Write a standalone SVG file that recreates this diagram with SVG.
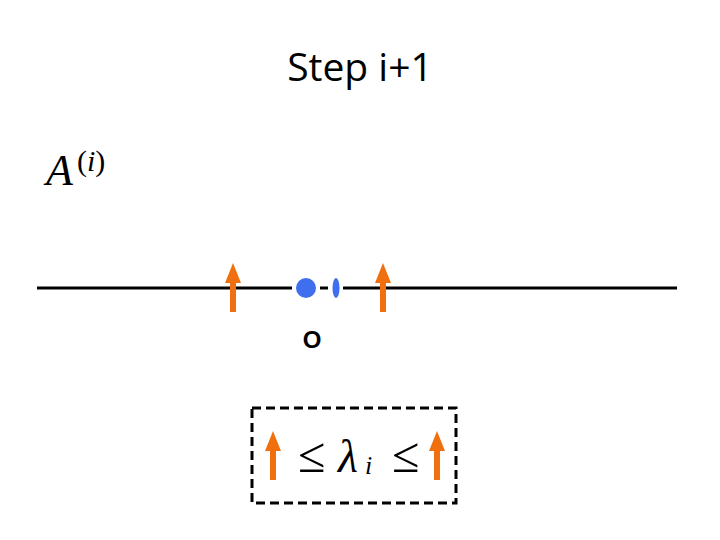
<svg xmlns="http://www.w3.org/2000/svg" width="720" height="540" viewBox="0 0 720 540">
<style>
.arrow{fill:#f07010}
.dot{fill:#3f6fef}
.math{font-family:"Liberation Serif","DejaVu Serif",serif}
</style>
<defs>
<path id="arr" class="arrow" d="M-3,0 L-3,-29 L-8,-29 L0,-49 L8,-29 L3,-29 L3,0 Z"/>
</defs>
<rect width="720" height="540" fill="#fff"/>
<g id="title"><text x="360" y="81" text-anchor="middle" font-family="'Open Sans','Liberation Sans',sans-serif" font-size="39" fill="#000">Step i+1</text></g>
<g id="label-A"><text class="math" x="46" y="185" font-size="44" font-style="italic">A</text><text class="math" x="77" y="171" font-size="30">(<tspan font-style="italic">i</tspan>)</text></g>
<g id="connectors">
<line x1="37" y1="288" x2="292" y2="288" stroke="#000" stroke-width="3"/>
<line x1="320" y1="288" x2="328" y2="288" stroke="#000" stroke-width="3"/>
<line x1="343" y1="288" x2="677" y2="288" stroke="#000" stroke-width="3"/>
</g>
<g id="arrow-left"><use href="#arr" x="233" y="312"/></g>
<g id="arrow-right"><use href="#arr" x="383" y="312"/></g>
<g id="point"><circle class="dot" cx="306" cy="288" r="10"/></g>
<g id="ellipse"><ellipse class="dot" cx="336" cy="288" rx="3.5" ry="10"/></g>
<g id="origin"><text x="312" y="348" text-anchor="middle" font-family="'Liberation Sans',sans-serif" font-weight="bold" font-size="24">O</text></g>
<g id="box">
<rect x="252" y="408" width="204" height="95" fill="none" stroke="#000" stroke-width="3" stroke-dasharray="9,5"/>
<use href="#arr" x="273" y="480"/>
<use href="#arr" x="437" y="480"/>
<text class="math" x="298" y="472" font-size="50">≤</text>
<text class="math" x="338" y="472" font-size="46" font-style="italic">λ</text>
<text class="math" x="365" y="474" font-size="26" font-style="italic">i</text>
<text class="math" x="392" y="472" font-size="50">≤</text>
</g>
</svg>
